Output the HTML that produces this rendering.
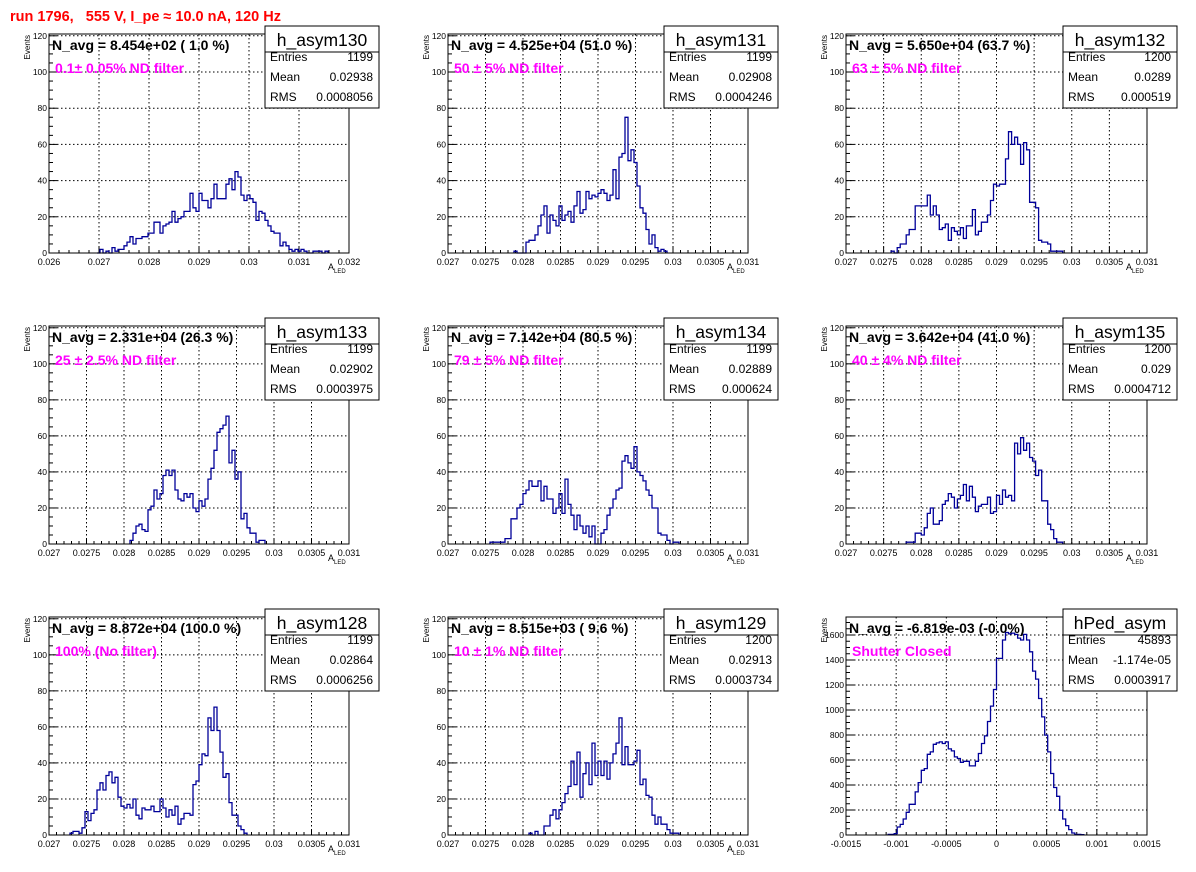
<!DOCTYPE html>
<html><head><meta charset="utf-8">
<style>
html,body{margin:0;padding:0;background:#fff;}
svg{display:block;font-family:"Liberation Sans",sans-serif;}
</style></head>
<body>
<svg id="root" width="1196" height="872" viewBox="0 0 1196 872" xmlns="http://www.w3.org/2000/svg">
<rect x="0" y="0" width="1196" height="872" fill="#fff"/>
<text x="10" y="21" fill="#ff0000" font-weight="bold" font-size="14.5" style="white-space:pre" xml:space="preserve">run 1796,   555 V, I_pe ≈ 10.0 nA, 120 Hz</text>
</svg>
<script>
// ---- data (counts per bin, starting at a given bin index; 100 bins per histogram) ----
const start130 = 16;
const counts130 = [0,2,0,1,0,3,1,2,2,4,6,9,5,8,8,9,9,11,11,17,17,11,15,16,17,23,17,19,20,23,23,33,25,23,33,29,29,25,30,38,30,30,30,38,41,35,45,42,32,29,32,30,28,18,23,22,18,15,12,11,11,4,6,4,2,1,2,1,2,1,0,0,1,1,1,0,1];
const start131 = 22;
const counts131 = [1,0,0,0,6,7,7,10,15,21,26,11,21,18,15,26,18,21,23,17,26,34,22,24,34,30,32,31,33,35,33,29,32,46,30,53,55,75,51,57,50,37,25,22,13,5,10,3,1,2,1];
const start132 = 15;
const counts132 = [1,0,3,5,5,10,13,13,26,26,26,26,32,21,26,21,13,14,16,7,14,12,10,14,8,15,15,24,10,12,17,17,21,29,38,37,38,38,52,67,60,64,60,49,61,57,28,28,25,7,6,6,5,1,1,1,1];
const start133 = 27;
const counts133 = [2,6,10,11,8,7,19,21,30,25,28,38,41,38,41,30,25,24,28,26,28,20,18,24,21,25,36,42,52,62,64,66,71,45,52,36,40,14,17,9,6,6,1,2,2];
const start134 = 14;
const counts134 = [1,1,1,1,1,3,3,14,14,20,22,28,30,35,32,32,35,24,32,25,25,17,20,28,17,36,22,16,8,16,10,6,10,4,10,0,0,6,8,16,20,25,30,31,46,49,45,42,54,40,38,35,30,27,20,20,6,5,5,2,0,1,1];
const start135 = 20;
const counts135 = [1,1,1,6,6,5,9,17,20,11,11,13,22,24,28,26,20,25,27,33,24,32,26,18,21,22,22,26,17,18,27,22,30,26,27,24,56,50,59,52,56,48,46,38,41,24,24,11,8,3,1,1];
const start128 = 7;
const counts128 = [1,2,2,1,4,13,8,12,14,25,29,25,33,35,29,32,21,16,15,17,15,20,11,9,15,14,14,16,13,13,20,15,10,14,11,16,6,9,12,12,11,28,30,39,45,44,65,58,71,58,46,32,34,18,11,11,5,3,1];
const start129 = 27;
const counts129 = [1,0,2,0,0,5,5,11,14,9,14,18,23,27,41,28,46,21,34,40,28,51,33,41,33,41,31,40,45,51,65,39,49,39,39,41,47,28,31,22,21,11,6,10,6,6,3,1,1,1];
const startPed = 14;
const countsPed = [5,5,11,64,85,128,182,246,246,345,419,518,531,646,665,726,737,745,732,745,689,673,625,612,582,590,590,553,553,590,652,732,793,908,1031,1164,1413,1413,1560,1620,1610,1615,1605,1575,1560,1605,1560,1466,1311,1247,1092,945,799,665,492,380,310,198,128,75,43,16,5,5,3];

const ticksA = ["0.026","0.027","0.028","0.029","0.03","0.031","0.032"];
const ticksB = ["0.027","0.0275","0.028","0.0285","0.029","0.0295","0.03","0.0305","0.031"];
const ticksPed = ["-0.0015","-0.001","-0.0005","0","0.0005","0.001","0.0015"];
const yLabelsA = ["0","20","40","60","80","100","120"];
const yLabelsPed = ["0","200","400","600","800","1000","1200","1400","1600"];

const names = ["h_asym130","h_asym131","h_asym132","h_asym133","h_asym134","h_asym135","h_asym128","h_asym129","hPed_asym"];
const navgs = ["N_avg = 8.454e+02 ( 1.0 %)","N_avg = 4.525e+04 (51.0 %)","N_avg = 5.650e+04 (63.7 %)","N_avg = 2.331e+04 (26.3 %)","N_avg = 7.142e+04 (80.5 %)","N_avg = 3.642e+04 (41.0 %)","N_avg = 8.872e+04 (100.0 %)","N_avg = 8.515e+03 ( 9.6 %)","N_avg = -6.819e-03 (-0.0%)"];
const notes = ["0.1± 0.05% ND filter","50 ± 5% ND filter","63 ± 5% ND filter","25 ± 2.5% ND filter","79 ± 5% ND filter","40 ± 4% ND filter","100% (No filter)","10 ± 1% ND filter","Shutter Closed"];
const entries = ["1199","1199","1200","1199","1199","1200","1199","1200","45893"];
const means = ["0.02938","0.02908","0.0289","0.02902","0.02889","0.029","0.02864","0.02913","-1.174e-05"];
const rmss = ["0.0008056","0.0004246","0.000519","0.0003975","0.000624","0.0004712","0.0006256","0.0003734","0.0003917"];

const NS = "http://www.w3.org/2000/svg";
const root = document.getElementById('root');
function mk(parent, tag, attrs, txt){
  const e = document.createElementNS(NS, tag);
  for (const k in attrs) e.setAttribute(k, attrs[k]);
  if (txt !== undefined) e.textContent = txt;
  parent.appendChild(e);
  return e;
}
const FX0 = [49,448,846], FX1 = [349,748,1147], FY0 = [34,326,617], FY1 = [253,544,835];

const panels = [
  {s:start130,c:counts130,xmin:0.026,xmax:0.032,tl:ticksA,ymax:121,yl:yLabelsA},
  {s:start131,c:counts131,xmin:0.027,xmax:0.031,tl:ticksB,ymax:121,yl:yLabelsA},
  {s:start132,c:counts132,xmin:0.027,xmax:0.031,tl:ticksB,ymax:121,yl:yLabelsA},
  {s:start133,c:counts133,xmin:0.027,xmax:0.031,tl:ticksB,ymax:121,yl:yLabelsA},
  {s:start134,c:counts134,xmin:0.027,xmax:0.031,tl:ticksB,ymax:121,yl:yLabelsA},
  {s:start135,c:counts135,xmin:0.027,xmax:0.031,tl:ticksB,ymax:121,yl:yLabelsA},
  {s:start128,c:counts128,xmin:0.027,xmax:0.031,tl:ticksB,ymax:121,yl:yLabelsA},
  {s:start129,c:counts129,xmin:0.027,xmax:0.031,tl:ticksB,ymax:121,yl:yLabelsA},
  {s:startPed,c:countsPed,xmin:-0.0015,xmax:0.0015,tl:ticksPed,ymax:1744,yl:yLabelsPed}
];

panels.forEach((p, i) => {
  const col = i % 3, row = Math.floor(i / 3);
  const x0 = FX0[col], x1 = FX1[col], y0 = FY0[row], y1 = FY1[row];
  const g = mk(root, 'g', {});
  
  
  const xs = v => x0 + (v - p.xmin) / (p.xmax - p.xmin) * (x1 - x0);
  const ys = v => y1 - v / p.ymax * (y1 - y0);
  const xv = p.tl.map(Number);
  const xstep = xv[1] - xv[0];
  xv.forEach((v, k) => {
    const X = xs(v);
    if (k > 0 && k < xv.length - 1) {
      const gl = mk(g, 'line', {x1:X, y1:y0, x2:X, y2:y1, stroke:'#000', 'stroke-width':1, 'stroke-dasharray':'1.5,2.5'});
      
      
    }
    const t = mk(g, 'line', {x1:X, y1:y1, x2:X, y2:y1 - 6, stroke:'#000', 'stroke-width':1});
    
    
    const lb = mk(g, 'text', {x:X, y:y1 + 12, 'font-size':9, 'text-anchor':'middle', fill:'#000'}, p.tl[k]);
    
    
    if (k < xv.length - 1) {
      for (let m = 1; m < 5; m++) {
        const XM = xs(v + xstep * m / 5);
        const mt = mk(g, 'line', {x1:XM, y1:y1, x2:XM, y2:y1 - 3, stroke:'#000', 'stroke-width':1});
        
        
      }
    }
  });
  const yv = p.yl.map(Number);
  const ystep = yv[1] - yv[0];
  yv.forEach((v, k) => {
    const Y = ys(v);
    if (k > 0) {
      const gl = mk(g, 'line', {x1:x0, y1:Y, x2:x1, y2:Y, stroke:'#000', 'stroke-width':1, 'stroke-dasharray':'1.5,2.5'});
      
      
    }
    const t = mk(g, 'line', {x1:x0, y1:Y, x2:x0 + 8, y2:Y, stroke:'#000', 'stroke-width':1});
    
    
    const lb = mk(g, 'text', {x:x0 - 2, y:Y + 3, 'font-size':8.5, 'text-anchor':'end', fill:'#000'}, p.yl[k]);
    
    
    for (let m = 1; m < 4; m++) {
      const vm = v + ystep * m / 4;
      if (vm > p.ymax) break;
      const YM = ys(vm);
      const mt = mk(g, 'line', {x1:x0, y1:YM, x2:x0 + 4, y2:YM, stroke:'#000', 'stroke-width':1});
      
      
    }
  });
  const bw = (p.xmax - p.xmin) / 100;
  let d = 'M' + xs(p.xmin + p.s * bw).toFixed(1) + ',' + ys(0).toFixed(1);
  p.c.forEach((c, k) => {
    const lo = xs(p.xmin + (p.s + k) * bw), hi = xs(p.xmin + (p.s + k + 1) * bw), Y = ys(Math.min(c, p.ymax));
    d += 'L' + lo.toFixed(1) + ',' + Y.toFixed(1) + 'L' + hi.toFixed(1) + ',' + Y.toFixed(1);
  });
  d += 'L' + xs(p.xmin + (p.s + p.c.length) * bw).toFixed(1) + ',' + ys(0).toFixed(1);
  const h = mk(g, 'path', {d:d, fill:'none', stroke:'#000099', 'stroke-width':1.3});
  
  
  const fr = mk(g, 'rect', {x:x0, y:y0, width:x1 - x0, height:y1 - y0, fill:'none', stroke:'#000', 'stroke-width':1});
  
  
  const ev = mk(g, 'text', {x:0, y:0, 'font-size':8, 'text-anchor':'end', transform:'translate(' + (x0 - 19) + ',' + (y0 + 1) + ') rotate(-90)'}, 'Events');
  
  
  if (i < 8) {
    const at = mk(g, 'text', {x:x1 - 21, y:y1 + 17, 'font-size':9}, 'A');
    
    
    mk(at, 'tspan', {'font-size':6, dy:3}, 'LED');
  }
  const na = mk(g, 'text', {x:x0 + 3, y:y0 + 16, 'font-size':14, 'font-weight':'bold', fill:'#000'}, navgs[i]);
  
  
  const nt = mk(g, 'text', {x:x0 + 6, y:y0 + 39, 'font-size':14, 'font-weight':'bold', fill:'#ff00ff'}, notes[i]);
  
  
  const bx0 = x1 - 84, bx1 = x1 + 30, by0 = y0 - 8;
  const sb = mk(g, 'rect', {x:bx0, y:by0, width:bx1 - bx0, height:82, fill:'#fff', stroke:'#000', 'stroke-width':1});
  
  
  const sl = mk(g, 'line', {x1:bx0, y1:by0 + 26, x2:bx1, y2:by0 + 26, stroke:'#000', 'stroke-width':1});
  
  
  const st = mk(g, 'text', {x:(bx0 + bx1) / 2, y:by0 + 20, 'font-size':17.5, 'text-anchor':'middle'}, names[i]);
  
  
  const rowsL = ['Entries', 'Mean', 'RMS'], rowsV = [entries[i], means[i], rmss[i]];
  rowsL.forEach((r, k) => {
    const yy = by0 + 35 + k * 20;
    const a = mk(g, 'text', {x:bx0 + 5, y:yy, 'font-size':12}, r);
    
    
    const b = mk(g, 'text', {x:bx1 - 6, y:yy, 'font-size':12, 'text-anchor':'end'}, rowsV[k]);
    
    
  });
});
</script>
</body></html>
